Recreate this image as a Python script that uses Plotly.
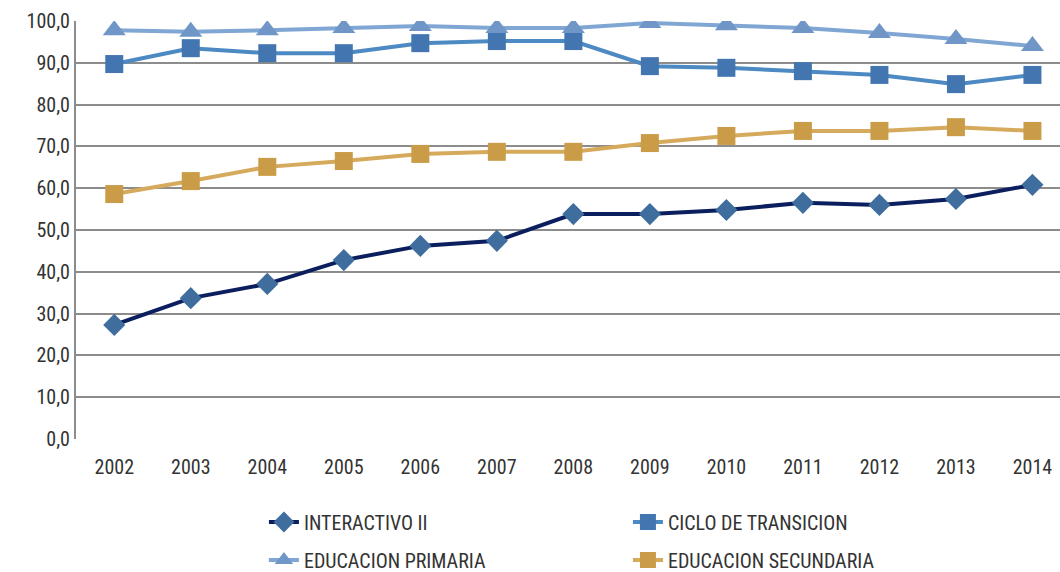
import plotly.graph_objects as go

years = ["2002", "2003", "2004", "2005", "2006", "2007", "2008",
         "2009", "2010", "2011", "2012", "2013", "2014"]
interactivo = [27.3, 33.7, 37.1, 42.8, 46.2, 47.4, 53.8, 53.8, 54.8, 56.5, 56.0, 57.4, 60.8]
ciclo = [89.7, 93.5, 92.3, 92.3, 94.7, 95.2, 95.2, 89.2, 88.8, 88.0, 87.1, 84.9, 87.1]
primaria = [97.8, 97.4, 97.8, 98.3, 98.8, 98.3, 98.3, 99.5, 99.0, 98.3, 97.1, 95.7, 94.0]
secundaria = [58.6, 61.7, 65.1, 66.5, 68.2, 68.7, 68.7, 70.8, 72.5, 73.7, 73.7, 74.6, 73.7]

FONT = "Liberation Sans Narrow, Arial Narrow, Roboto Condensed, Liberation Sans, sans-serif"

fig = go.Figure()
fig.add_trace(go.Scatter(
    x=years, y=interactivo, name="INTERACTIVO II", mode="lines+markers",
    line=dict(color="#0b1f5e", width=4),
    marker=dict(symbol="diamond", size=17, color="#3f6d9e"),
    legend="legend"))
fig.add_trace(go.Scatter(
    x=years, y=ciclo, name="CICLO DE TRANSICION", mode="lines+markers",
    line=dict(color="#4d89c2", width=4),
    marker=dict(symbol="square", size=18, color="#4376b0"),
    legend="legend"))
fig.add_trace(go.Scatter(
    x=years, y=primaria, name="EDUCACION PRIMARIA", mode="lines+markers",
    line=dict(color="#80a7d3", width=4),
    marker=dict(symbol="triangle-up", size=20, color="#7096c8"),
    legend="legend2"))
fig.add_trace(go.Scatter(
    x=years, y=secundaria, name="EDUCACION SECUNDARIA", mode="lines+markers",
    line=dict(color="#d6aa5c", width=4),
    marker=dict(symbol="square", size=18, color="#cb9c48"),
    legend="legend2"))

legend_common = dict(
    orientation="h", xref="container", yref="container",
    xanchor="left", yanchor="middle",
    entrywidth=319, entrywidthmode="pixels",
    font=dict(family=FONT, size=20, color="#333333"),
    bgcolor="rgba(0,0,0,0)",
)

fig.update_layout(
    width=1060, height=572,
    margin=dict(l=76, r=0, t=21, b=133),
    paper_bgcolor="white", plot_bgcolor="white",
    separators=",.",
    font=dict(family=FONT, size=20, color="#333333"),
    showlegend=True,
    legend=dict(x=0.249, y=1 - 522 / 572, **legend_common),
    legend2=dict(x=0.249, y=1 - 560 / 572, **legend_common),
)
fig.update_xaxes(
    type="category", range=[-0.5, 12.36],
    showgrid=False, showline=False, zeroline=False,
    ticks="", ticklabelstandoff=14, tickfont=dict(size=20, color="#333333"),
)
fig.update_yaxes(
    range=[0, 100], dtick=10, tickformat=".1f",
    showgrid=True, gridcolor="#8c8c8c", gridwidth=2,
    showline=True, linecolor="#8c8c8c", linewidth=2,
    zeroline=False, ticks="", tickfont=dict(size=20, color="#333333"),
)

fig.write_html("out.html", config={"displayModeBar": False},
               post_script="document.body.style.margin='0';")
